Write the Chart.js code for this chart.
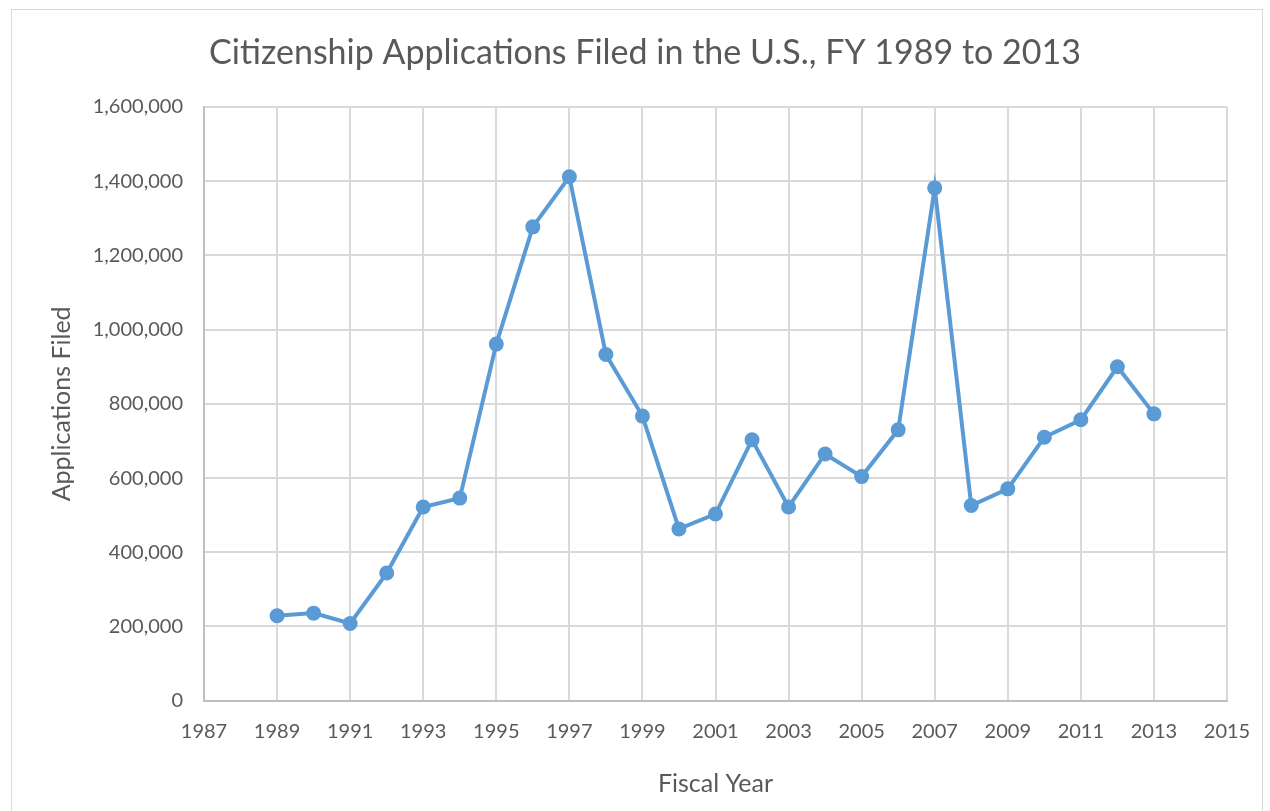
<!DOCTYPE html>
<html><head><meta charset="utf-8">
<script src="https://cdn.jsdelivr.net/npm/chart.js@4.4.0/dist/chart.umd.min.js"></script>
<style>html,body{margin:0;padding:0;background:#fff;}#wrap{width:1270px;height:811px;position:relative;}</style>
</head><body><div id="wrap"><canvas id="c" width="1270" height="811"></canvas></div>
<script>
const years = [1989,1990,1991,1992,1993,1994,1995,1996,1997,1998,1999,2000,2001,2002,2003,2004,2005,2006,2007,2008,2009,2010,2011,2012,2013];
const applications = [229000,236000,208000,344000,522000,546000,961000,1277000,1412000,933000,767000,463000,503000,703000,522000,665000,604000,730000,1382000,526000,571000,710000,757000,900000,773000];
const chartTitle = 'Citizenship Applications Filed in the U.S., FY 1989 to 2013';
const xTitle = 'Fiscal Year';
const yTitle = 'Applications Filed';

const FONT = 'Lato, "Open Sans", sans-serif';
const TXT = '#595959';

const frame = {
  id: 'frame',
  beforeDraw(chart) {
    const ctx = chart.ctx;
    ctx.save();
    ctx.fillStyle = '#fff';
    ctx.fillRect(0, 0, chart.width, chart.height);
    ctx.strokeStyle = '#d9d9d9';
    ctx.lineWidth = 1;
    ctx.strokeRect(11.5, 9.5, 1251, 820);
    ctx.fillStyle = TXT;
    ctx.font = '34px ' + FONT;
    ctx.textAlign = 'center';
    ctx.textBaseline = 'middle';
    ctx.fillText(chartTitle, 645, 53);
    ctx.restore();
  }
};

new Chart(document.getElementById('c'), {
  type: 'line',
  data: {
    datasets: [{
      data: years.map((y, i) => ({x: y, y: applications[i]})),
      borderColor: '#5b9bd5',
      backgroundColor: '#5b9bd5',
      borderWidth: 4,
      pointRadius: 7.5,
      pointHoverRadius: 7.5,
      pointBorderWidth: 0,
      tension: 0
    }]
  },
  options: {
    responsive: false,
    animation: false,
    layout: {padding: {left: 0, right: 43, top: 107, bottom: 0}},
    plugins: {
      legend: {display: false},
      tooltip: {enabled: false},
      title: {display: false}
    },
    scales: {
      x: {
        type: 'linear',
        min: 1987, max: 2015,
        afterFit(s) { s.height = 110.3; },
        ticks: {stepSize: 2, color: TXT, font: {family: FONT, size: 20}, padding: 19, callback: v => String(v)},
        grid: {color: '#d9d9d9', lineWidth: 2, drawTicks: false},
        border: {color: '#bfbfbf', width: 2},
        title: {display: true, text: xTitle, color: TXT, font: {family: FONT, size: 25}, padding: {top: 0, bottom: 12}}
      },
      y: {
        min: 0, max: 1600000,
        afterFit(s) { s.width = 204; },
        ticks: {stepSize: 200000, color: TXT, font: {family: FONT, size: 20}, padding: 21,
          callback: v => v.toLocaleString('en-US')},
        grid: {color: '#d9d9d9', lineWidth: 2, drawTicks: false},
        border: {color: '#bfbfbf', width: 2},
        title: {display: true, text: yTitle, color: TXT, font: {family: FONT, size: 25}, padding: {top: 47, bottom: 0}}
      }
    }
  },
  plugins: [frame]
});
</script>
</body></html>
